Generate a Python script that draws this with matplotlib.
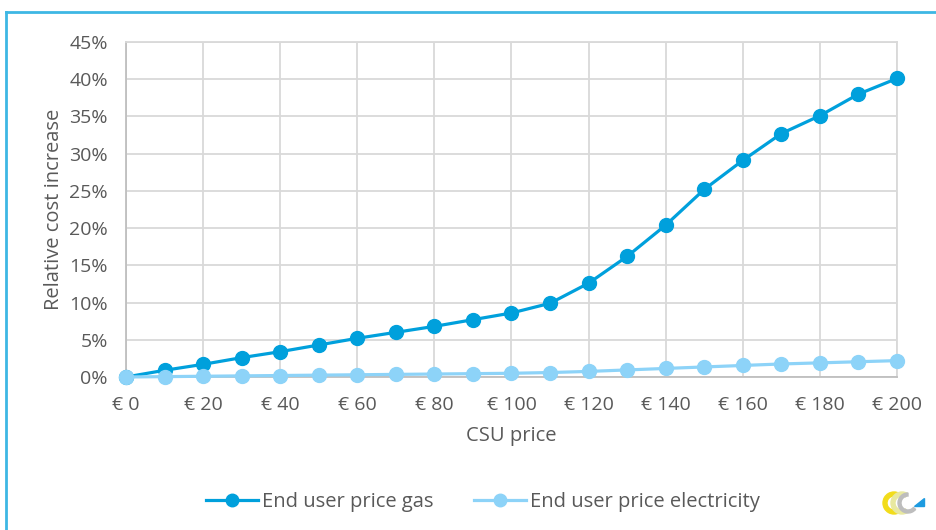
"""
Relative cost increase for end users as a function of the CSU price.
"""

import matplotlib

matplotlib.use("Agg")
import matplotlib.pyplot as plt
from matplotlib.lines import Line2D
from matplotlib.patches import Polygon, Wedge
from matplotlib.ticker import FuncFormatter, MultipleLocator

# CSU price (EUR) and relative cost increase (%)
csu_price = [0, 10, 20, 30, 40, 50, 60, 70, 80, 90, 100,
             110, 120, 130, 140, 150, 160, 170, 180, 190, 200]
gas_increase = [0.0, 0.9, 1.7, 2.6, 3.4, 4.3, 5.2, 6.0, 6.8, 7.7, 8.6,
                9.9, 12.6, 16.2, 20.4, 25.2, 29.1, 32.7, 35.1, 38.0, 40.1]
elec_increase = [0.0, 0.05, 0.1, 0.15, 0.2, 0.25, 0.3, 0.35, 0.4, 0.45, 0.5,
                 0.6, 0.75, 0.95, 1.15, 1.35, 1.55, 1.75, 1.9, 2.05, 2.2]

GAS = "#00A0DC"
ELEC = "#8DD3F8"
TXT = "#595959"
GRID = "#D9D9D9"
FRAME = "#3DB7E4"

plt.rcParams["font.family"] = ["Open Sans", "DejaVu Sans"]

fig = plt.figure(figsize=(9.37, 5.30), dpi=100)
ax = fig.add_axes([126 / 937, 1 - 377 / 530, 771 / 937, 335 / 530])

ax.plot(csu_price, gas_increase, color=GAS, lw=2.3, marker="o", ms=10,
        label="End user price gas", zorder=3, clip_on=False)
ax.plot(csu_price, elec_increase, color=ELEC, lw=2.3, marker="o", ms=10,
        label="End user price electricity", zorder=4, clip_on=False)

ax.set_xlim(0, 200)
ax.set_ylim(0, 45)
ax.xaxis.set_major_locator(MultipleLocator(20))
ax.yaxis.set_major_locator(MultipleLocator(5))
ax.xaxis.set_major_formatter(FuncFormatter(lambda v, _: f"€ {v:.0f}"))
ax.yaxis.set_major_formatter(FuncFormatter(lambda v, _: f"{v:.0f}%"))
ax.grid(True, color=GRID, lw=1.3)
ax.set_axisbelow(True)
for side in ["top", "right"]:
    ax.spines[side].set_color(GRID)
    ax.spines[side].set_linewidth(1.3)
for side in ["left", "bottom"]:
    ax.spines[side].set_color("#BFBFBF")
    ax.spines[side].set_linewidth(1.3)
ax.tick_params(length=0, colors=TXT, labelsize=14)
ax.tick_params(axis="x", pad=14)
ax.tick_params(axis="y", pad=13)

ax.set_xlabel("CSU price", color=TXT, fontsize=14.5, labelpad=8)
ax.set_ylabel("Relative cost increase", color=TXT, fontsize=14.5, labelpad=4)

handles = [
    Line2D([], [], color=GAS, lw=2.3, marker="o", ms=9),
    Line2D([], [], color=ELEC, lw=2.3, marker="o", ms=9),
]
fig.legend(handles, ["End user price gas", "End user price electricity"],
           loc="center", bbox_to_anchor=(483 / 937, 1 - 502 / 530), ncol=2,
           frameon=False, fontsize=14.5, labelcolor=TXT, handlelength=2.6,
           handletextpad=0.2, columnspacing=2.0)

# outer frame lines (top and left)
fig.add_artist(Line2D([6 / 937, 1], [1 - 12 / 530, 1 - 12 / 530],
                      transform=fig.transFigure, color=FRAME, lw=2))
fig.add_artist(Line2D([6 / 937, 6 / 937], [0, 1 - 12 / 530],
                      transform=fig.transFigure, color=FRAME, lw=2))

# small logo in the lower right corner
logo = fig.add_axes([880 / 937, 1 - 518 / 530, 50 / 937, 30 / 530])
logo.set_xlim(0, 50)
logo.set_ylim(0, 30)
logo.set_aspect("equal")
logo.axis("off")
logo.add_patch(Wedge((14, 15), 11, 60, 300, width=4, color="#F2DC1B"))
logo.add_patch(Wedge((22, 15), 11, 60, 300, width=4, color="#E8E8A0"))
logo.add_patch(Wedge((28, 15), 10, 90, 320, width=3, color="#BDBDBD"))
logo.add_patch(Polygon([[34, 12], [44, 12], [44, 20]], color="#1E9BE0"))

fig.savefig("out.png", dpi=100)
